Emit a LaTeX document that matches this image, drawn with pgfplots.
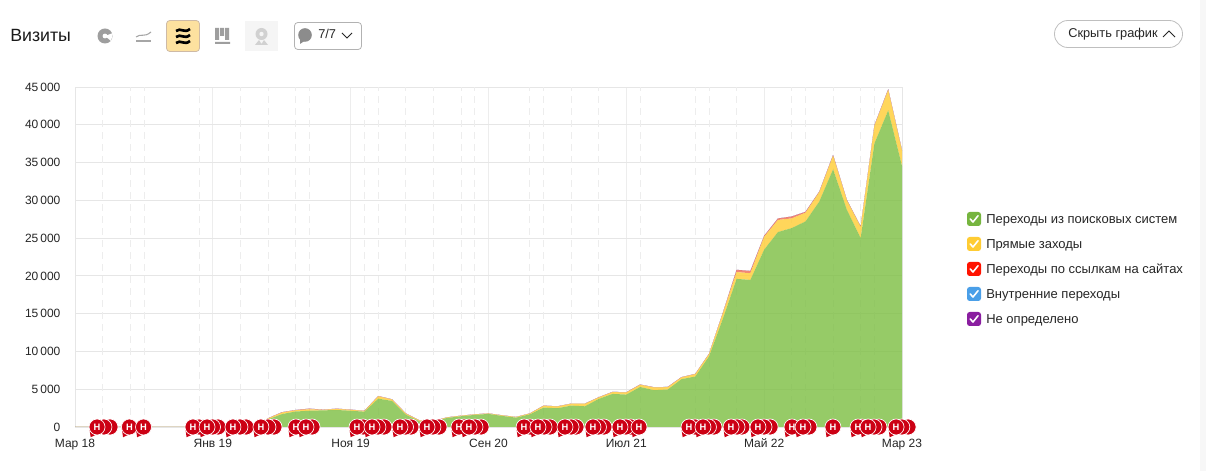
\documentclass[border=0pt]{standalone}
\usepackage{pgfplots}
\usepackage{pgfplotstable}
\usepackage{fontspec}
\setmainfont{Liberation Sans}
\pgfplotsset{compat=1.18}
\definecolor{gridc}{HTML}{E6E6E6}
\definecolor{cgreen}{HTML}{7CBE42}
\definecolor{cyellow}{HTML}{FFCC33}
\definecolor{cred}{HTML}{E8361E}
\definecolor{cblue}{HTML}{4A9FE8}
\definecolor{cpurple}{HTML}{8A1EA0}
\definecolor{notered}{HTML}{CC0014}
\pgfdeclareplotmark{note}{%
  \pgfpathmoveto{\pgfpoint{-5.6pt}{-2pt}}
  \pgfpathlineto{\pgfpoint{-4.8pt}{-7.7pt}}
  \pgfpathlineto{\pgfpoint{-0.8pt}{-5.8pt}}
  \pgfpathclose
  \pgfusepathqfill
  \pgfpathcircle{\pgfpointorigin}{6pt}
  \pgfusepathqfillstroke
  \pgftext{\color{white}\bfseries\fontsize{7}{7}\selectfont Н}%
}
\pgfdeclareplotmark{noteback}{%
  \pgfpathcircle{\pgfpointorigin}{6pt}
  \pgfusepathqfillstroke
}
\pgfplotstableread{
m g y r b p
0 0 0 0 0 0
1 0 0 0 0 0
2 0 0 0 0 0
3 0 0 0 0 0
4 0 0 0 0 0
5 0 0 0 0 0
6 0 0 0 0 0
7 0 0 0 0 0
8 0 0 0 0 0
9 0 0 0 0 0
10 0 0 0 0 0
11 0 0 0 0 0
12 0 0 0 0 0
13 60 10 5 0 0
14 1000 120 30 3 1
15 1700 210 40 3 1
16 2050 160 40 3 1
17 2150 200 80 3 1
18 2200 70 30 3 1
19 2250 140 40 3 1
20 2150 120 30 3 1
21 2030 100 20 3 1
22 3750 320 30 3 1
23 3450 190 30 3 1
24 1640 140 20 3 1
25 750 120 10 3 1
26 700 90 10 3 1
27 1200 70 10 3 1
28 1420 70 10 3 1
29 1600 70 10 3 1
30 1730 60 10 3 1
31 1460 80 10 3 1
32 1240 80 10 3 1
33 1680 110 10 3 1
34 2570 240 20 3 1
35 2480 240 20 3 1
36 2830 250 20 3 1
37 2740 340 20 3 1
38 3720 200 20 3 1
39 4380 240 30 3 1
40 4290 280 30 3 1
41 5300 290 30 3 1
42 4870 370 30 3 1
43 4960 310 30 3 1
44 6330 240 30 3 1
45 6680 320 30 3 1
46 9340 320 30 3 1
47 14300 740 60 5 1
48 19600 900 300 5 1
49 19470 890 300 5 1
50 23470 1710 120 5 1
51 25800 1600 200 5 1
52 26330 1280 250 5 1
53 27200 1160 120 5 1
54 29840 1240 80 5 1
55 34100 1800 100 5 1
56 28740 1260 60 5 1
57 25000 1490 60 5 1
58 37530 2340 80 5 1
59 41900 2700 100 5 1
60 34540 2030 80 5 1
}\visits
\pgfplotstableread{
m v
60.44 0
59.99 0
58.33 0
57.97 0
57.10 0
53.25 0
50.43 0
49.99 0
48.39 0
48.03 0
46.36 0
45.96 0
44.98 0
40.34 0
39.97 0
38.38 0
37.98 0
36.35 0
35.99 0
34.46 0
34.03 0
33.01 0
29.46 0
29.02 0
28.22 0
26.41 0
25.97 0
24.38 0
23.98 0
22.42 0
21.98 0
20.90 0
17.20 0
14.44 0
14.00 0
12.41 0
11.97 0
10.38 0
9.98 0
9.00 0
2.54 0
2.10 0
}\notesback
\pgfplotstableread{
m v
1.60 0
3.95 0
4.97 0
8.56 0
9.58 0
11.46 0
13.49 0
16.03 0
16.76 0
20.46 0
21.55 0
23.58 0
25.54 0
27.86 0
28.59 0
32.58 0
33.59 0
35.55 0
37.58 0
39.54 0
40.92 0
44.55 0
45.56 0
47.60 0
49.55 0
52.02 0
52.82 0
54.99 0
56.81 0
57.54 0
59.57 0
}\notesfront
\newcommand{\legitem}[3]{%
  \fill[#2,rounded corners=2pt] (967,#1-7) rectangle (981,#1+7);
  \draw[white,line width=1.2pt,line cap=round,line join=round] (970.2,#1) -- (973,#1+3) -- (978,#1-3.2);
  \node[anchor=base west,inner sep=0pt,font=\fontsize{9.75}{11}\selectfont,text=black!85] at (986,#1+4.5) {#3};
}
\begin{document}
\begin{tikzpicture}
\useasboundingbox (0,0) rectangle (904.5pt,353.25pt);
\fill[white] (0,0) rectangle (904.5pt,353.25pt);
\begin{axis}[
  at={(56.25pt,33pt)}, anchor=south west, scale only axis,
  width=620.25pt, height=255pt,
  xmin=0, xmax=60, ymin=0, ymax=45000,
  stack plots=y, clip=true, scaled y ticks=false,
  axis line style={gridc, line width=0.6pt},
  tick style={draw=none}, major tick length=0pt,
  xtick={0,10,20,30,40,50,60},
  xticklabels={Мар 18,Янв 19,Ноя 19,Сен 20,Июл 21,Май 22,Мар 23},
  ytick={0,5000,10000,15000,20000,25000,30000,35000,40000,45000},
  yticklabels={0,5\,000,10\,000,15\,000,20\,000,25\,000,30\,000,35\,000,40\,000,45\,000},
  ticklabel style={font=\fontsize{9}{10}\selectfont, text=black!85},
  xticklabel style={yshift=-4.6pt, text height=7.5pt, text depth=0pt},
  yticklabel style={xshift=-7.4pt},
  grid=major, y grid style={gridc, line width=0.6pt}, x grid style={black!7, line width=0.6pt},
  extra x ticks={2,4,5,9,12,14,16,17,21,22,24,26,28,29,33,34,36,38,41,45,46,48,52,53,55,57,58},
  extra x tick labels={},
  extra x tick style={grid=major, major grid style={black!12, line width=0.75pt, dash pattern=on 5pt off 4pt}},
]
\addplot[fill=cgreen, draw=none, fill opacity=0.8] table[x=m,y=g]{\visits} \closedcycle;
\addplot[fill=cyellow, draw=none, fill opacity=0.8] table[x=m,y=y]{\visits} \closedcycle;
\addplot[fill=cred, draw=none, fill opacity=0.6] table[x=m,y=r]{\visits} \closedcycle;
\addplot[fill=cblue, draw=none, fill opacity=0.6] table[x=m,y=b]{\visits} \closedcycle;
\addplot[fill=cpurple, draw=none, fill opacity=0.6] table[x=m,y=p]{\visits} \closedcycle;
\end{axis}
\begin{axis}[
  at={(56.25pt,33pt)}, anchor=south west, scale only axis,
  width=620.25pt, height=255pt,
  xmin=0, xmax=60, ymin=0, ymax=45000,
  hide axis, clip=false,
]
\addplot[only marks, mark=noteback, mark options={draw=white, fill=notered, line width=0.5pt}] table[x=m,y=v]{\notesback};
\addplot[only marks, mark=note, mark options={draw=white, fill=notered, line width=0.5pt}] table[x=m,y=v]{\notesfront};
\end{axis}
\begin{scope}[shift={(0pt,353.25pt)},x=0.75pt,y=-0.75pt]
% right band
\fill[black!3] (1200,0) rectangle (1206,471);
% title
\node[anchor=base west,inner sep=0pt,font=\fontsize{13.3}{15}\selectfont,text=black!90] at (10,42) {Визиты};
% pie icon
\fill[black!38] (105,36) circle (7.5);
\fill[white] (105,36) circle (2.4);
\fill[white] (105,36) -- (113,33) -- (111,41) -- cycle;
% line icon
\draw[black!35,line width=0.8pt] (136,37) .. controls (141,33) and (144,38) .. (151,32);
\draw[black!35,line width=0.8pt] (136,41) -- (151,41);
% active button
\draw[fill=yellow!40!orange!35!white,draw=orange!45!black!35!white,rounded corners=2.5pt,line width=0.6pt] (166.5,20.5) rectangle (199.5,51.5);
\foreach \yy in {30,36,42}{\draw[black,line width=2pt] (176,\yy+1) .. controls (181,\yy-3) and (184,\yy+4) .. (190,\yy-1);}
% bars icon
\fill[black!38] (215,28) rectangle (219,40) (220,28) rectangle (224,36) (225,28) rectangle (229,40) (215,42) rectangle (230,44);
% map icon
\fill[black!4] (245,21) rectangle (278,51);
\fill[black!18] (261.5,34) circle (6);
\fill[black!4] (261.5,34) circle (2.2);
\fill[black!18] (255,45) -- (259,40) -- (261.5,44) -- (264,40) -- (268,45) -- cycle;
% comments dropdown
\draw[black!30,rounded corners=2.5pt,line width=0.6pt] (294.5,22.5) rectangle (361.5,49.5);
\fill[black!45] (305,35) circle (6.8);
\fill[black!45] (300,38) -- (300,44) -- (306,40) -- cycle;
\node[anchor=base west,inner sep=0pt,font=\fontsize{9.6}{11}\selectfont,text=black!85] at (318,39) {7/7};
\draw[black!85,line width=0.7pt] (342,33) -- (347,38) -- (352,33);
% hide button
\draw[black!25,rounded corners=10pt,line width=0.6pt] (1054.5,20.5) rectangle (1182.5,47.5);
\node[anchor=base west,inner sep=0pt,font=\fontsize{9.6}{11}\selectfont,text=black!85] at (1068,38) {Скрыть график};
\draw[black!85,line width=0.7pt] (1163,37) -- (1169,31) -- (1175,37);
% legend
\legitem{219}{cgreen!95!black}{Переходы из поисковых систем}
\legitem{244}{cyellow}{Прямые заходы}
\legitem{269}{red!85!orange}{Переходы по ссылкам на сайтах}
\legitem{294}{cblue}{Внутренние переходы}
\legitem{319}{cpurple}{Не определено}
\end{scope}
\end{tikzpicture}
\end{document}
